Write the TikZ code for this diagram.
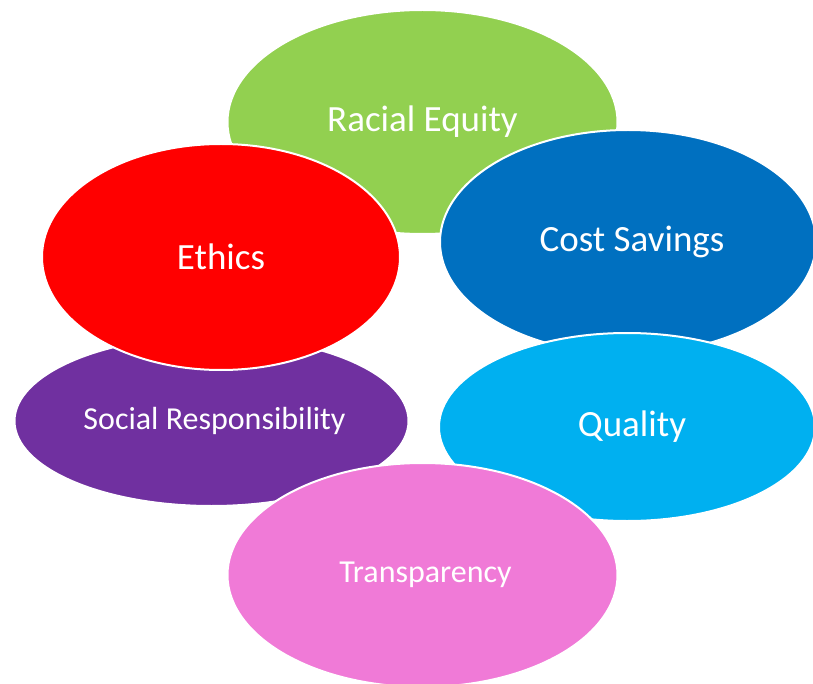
\documentclass[tikz,border=0pt]{standalone}
\usepackage{fontspec}
\setmainfont{Carlito}
\usetikzlibrary{shapes.geometric}
\definecolor{cgreen}{HTML}{92D050}
\definecolor{cred}{HTML}{FF0000}
\definecolor{cblue}{HTML}{0070C0}
\definecolor{clight}{HTML}{00B0F0}
\definecolor{cpurple}{HTML}{7030A0}
\definecolor{cpink}{HTML}{F07AD7}
\tikzset{
  blob/.style={ellipse, draw=white, line width=2pt, inner sep=0pt, text=white, font=\fontsize{37}{40}\selectfont},
  blobsmall/.style={blob, font=\fontsize{32}{35}\selectfont}
}
\begin{document}
\begin{tikzpicture}[x=1pt,y=-1pt]
\useasboundingbox (0,0) rectangle (813,684);
\clip (0,0) rectangle (813,684);
\node[blob, fill=cgreen, minimum width=390pt, minimum height=224pt] (re) at (422.5,122) {Racial Equity};
\node[blob, fill=cblue, minimum width=376pt, minimum height=224pt] (cs) at (628,242) {\hspace*{8pt}Cost Savings};
\node[blob, fill=clight, minimum width=376pt, minimum height=188pt] (q) at (627,427) {\hspace*{10pt}Quality};
\node[blobsmall, fill=cpurple, minimum width=394pt, minimum height=170pt] (sr) at (211.5,421) {\hspace*{6pt}Social Responsibility};
\node[blob, fill=cred, minimum width=358pt, minimum height=226pt] (e) at (221,257) {Ethics};
\node[blobsmall, fill=cpink, minimum width=390pt, minimum height=224pt] (t) at (422.5,575) {\hspace*{6pt}Transparency};
\end{tikzpicture}
\end{document}
